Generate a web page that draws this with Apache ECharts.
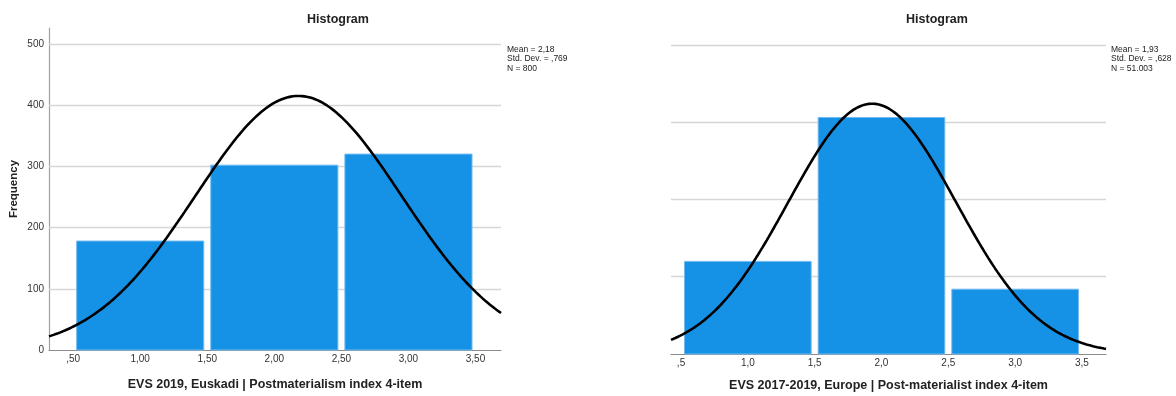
<!DOCTYPE html>
<html>
<head>
<meta charset="utf-8">
<script src="https://cdn.jsdelivr.net/npm/echarts@6/dist/echarts.min.js"></script>
<style>
  html, body { margin: 0; padding: 0; background: #fff; }
  #chart { width: 1176px; height: 396px; }
</style>
</head>
<body>
<div id="chart"></div>
<script>
// ---- Euskadi (EVS 2019) ----
const euBinStarts = [0.5, 1.5, 2.5];
const euBinEnds = [1.5, 2.5, 3.5];
const euCounts = [178, 302, 320];
const euMean = 2.18, euSd = 0.769, euN = 800;
const euTicks = [0.5, 1.0, 1.5, 2.0, 2.5, 3.0, 3.5];
const euGridLines = [100, 200, 300, 400, 500];

// ---- Europe (EVS 2017-2019) ----
const euroBinStarts = [0.5, 1.5, 2.5];
const euroBinEnds = [1.5, 2.5, 3.5];
const euroCounts = [11990, 30620, 8393];
const euroMean = 1.93, euroSd = 0.628, euroN = 51003;
const euroTicks = [0.5, 1.0, 1.5, 2.0, 2.5, 3.0, 3.5];
const euroGridLines = [10000, 20000, 30000, 40000];

const FONT = "'Liberation Sans', Arial, sans-serif";
const BAR_FILL = '#1591e6';
const BAR_EDGE = '#74bbf0';
const GRID_COLOR = '#d6d6d6';

// SPSS-style decimal comma, leading zero dropped (0,769 -> ,769)
function spssNum(v, digits) {
  return v.toFixed(digits).replace('.', ',').replace(/^0,/, ',');
}
function spssInt(v) {
  return String(v).replace(/\B(?=(\d{3})+(?!\d))/g, '.');
}

// Fitted normal curve over the axis range, scaled to counts per unit-width bin
function normalCurve(mean, sd, n, binWidth, xMin, xMax, steps) {
  const pts = [];
  for (let i = 0; i <= steps; i++) {
    const x = xMin + (xMax - xMin) * i / steps;
    const z = (x - mean) / sd;
    pts.push([x, n * binWidth * Math.exp(-0.5 * z * z) / (sd * Math.sqrt(2 * Math.PI))]);
  }
  return pts;
}

function histData(starts, ends, counts) {
  return counts.map((c, i) => [starts[i], ends[i], c]);
}

function renderBar(params, api) {
  const base = api.coord([api.value(0), 0]);
  const top = api.coord([api.value(1), api.value(2)]);
  const inset = 3.5;
  return {
    type: 'rect',
    shape: { x: base[0] + inset, y: top[1], width: top[0] - base[0] - 2 * inset, height: base[1] - top[1] },
    style: { fill: BAR_FILL, stroke: BAR_EDGE, lineWidth: 1 }
  };
}

// Horizontal reference lines kept behind the bars
function gridLineSeries(xi, values) {
  return {
    type: 'line', xAxisIndex: xi, yAxisIndex: xi, data: [], z: 1, silent: true,
    markLine: {
      z: 1, silent: true, symbol: 'none', label: { show: false },
      lineStyle: { color: GRID_COLOR, type: 'solid', width: 1.3 },
      data: values.map(v => ({ yAxis: v }))
    }
  };
}

const euRange = [0.32, 3.69];
const euroRange = [0.425, 3.68];

const chart = echarts.init(document.getElementById('chart'), null, { renderer: 'canvas' });

const xAxisCommon = {
  type: 'value',
  axisLine: { show: true, lineStyle: { color: '#8c8c8c', width: 1.2 } },
  axisTick: { show: false },
  splitLine: { show: false },
  nameLocation: 'middle',
  nameTextStyle: { fontFamily: FONT, fontSize: 12.5, fontWeight: 'bold', color: '#222' }
};

const statsStyle = { font: '8.5px ' + FONT, fill: '#222', lineHeight: 9.3 };

chart.setOption({
  animation: false,
  backgroundColor: '#fff',
  title: [
    { text: 'Histogram', left: 333, top: 8, textAlign: 'center',
      textStyle: { fontFamily: FONT, fontSize: 12.5, fontWeight: 'bold', color: '#222' } },
    { text: 'Histogram', left: 932, top: 8, textAlign: 'center',
      textStyle: { fontFamily: FONT, fontSize: 12.5, fontWeight: 'bold', color: '#222' } }
  ],
  graphic: [
    { type: 'text', left: 507, top: 45,
      style: Object.assign({ text: ['Mean = ' + spssNum(euMean, 2), 'Std. Dev. = ' + spssNum(euSd, 3), 'N = ' + spssInt(euN)].join('\n') }, statsStyle) },
    { type: 'text', left: 1111, top: 45,
      style: Object.assign({ text: ['Mean = ' + spssNum(euroMean, 2), 'Std. Dev. = ' + spssNum(euroSd, 3), 'N = ' + spssInt(euroN)].join('\n') }, statsStyle) }
  ],
  grid: [
    { left: 49, right: 675, top: 28, bottom: 46, outerBoundsMode: 'none' },
    { left: 671, right: 70, top: 28, bottom: 42, outerBoundsMode: 'none' }
  ],
  xAxis: [
    Object.assign({}, xAxisCommon, {
      gridIndex: 0, min: euRange[0], max: euRange[1],
      name: 'EVS 2019, Euskadi | Postmaterialism index 4-item', nameGap: 28,
      axisLabel: { customValues: euTicks, formatter: v => spssNum(v, 2),
                   fontFamily: FONT, fontSize: 10, color: '#333', margin: 4 }
    }),
    Object.assign({}, xAxisCommon, {
      gridIndex: 1, min: euroRange[0], max: euroRange[1],
      name: 'EVS 2017-2019, Europe | Post-materialist index 4-item', nameGap: 25,
      axisLabel: { customValues: euroTicks, formatter: v => spssNum(v, 1),
                   fontFamily: FONT, fontSize: 10, color: '#333', margin: 4 }
    })
  ],
  yAxis: [
    { type: 'value', gridIndex: 0, min: 0, max: 526, interval: 100,
      name: 'Frequency', nameLocation: 'middle', nameGap: 29,
      nameTextStyle: { fontFamily: FONT, fontSize: 11.5, fontWeight: 'bold', color: '#222' },
      axisLine: { show: true, lineStyle: { color: '#a0a0a0', width: 1.2 } },
      axisTick: { show: false },
      splitLine: { show: false },
      axisLabel: { showMaxLabel: false, fontFamily: FONT, fontSize: 10, color: '#333', margin: 5 } },
    { type: 'value', gridIndex: 1, min: 0, max: 42200, interval: 10000,
      axisLine: { show: false }, axisTick: { show: false },
      splitLine: { show: false }, axisLabel: { show: false } }
  ],
  series: [
    gridLineSeries(0, euGridLines),
    gridLineSeries(1, euroGridLines),
    { type: 'custom', xAxisIndex: 0, yAxisIndex: 0, z: 2,
      renderItem: renderBar, encode: { x: [0, 1], y: 2 },
      data: histData(euBinStarts, euBinEnds, euCounts) },
    { type: 'custom', xAxisIndex: 1, yAxisIndex: 1, z: 2,
      renderItem: renderBar, encode: { x: [0, 1], y: 2 },
      data: histData(euroBinStarts, euroBinEnds, euroCounts) },
    { type: 'line', xAxisIndex: 0, yAxisIndex: 0, z: 3, showSymbol: false, silent: true,
      lineStyle: { color: '#000', width: 2.6 },
      data: normalCurve(euMean, euSd, euN, 1, euRange[0], euRange[1], 200) },
    { type: 'line', xAxisIndex: 1, yAxisIndex: 1, z: 3, showSymbol: false, silent: true,
      lineStyle: { color: '#000', width: 2.6 },
      data: normalCurve(euroMean, euroSd, euroN, 1, euroRange[0], euroRange[1], 200) }
  ]
});
</script>
</body>
</html>
